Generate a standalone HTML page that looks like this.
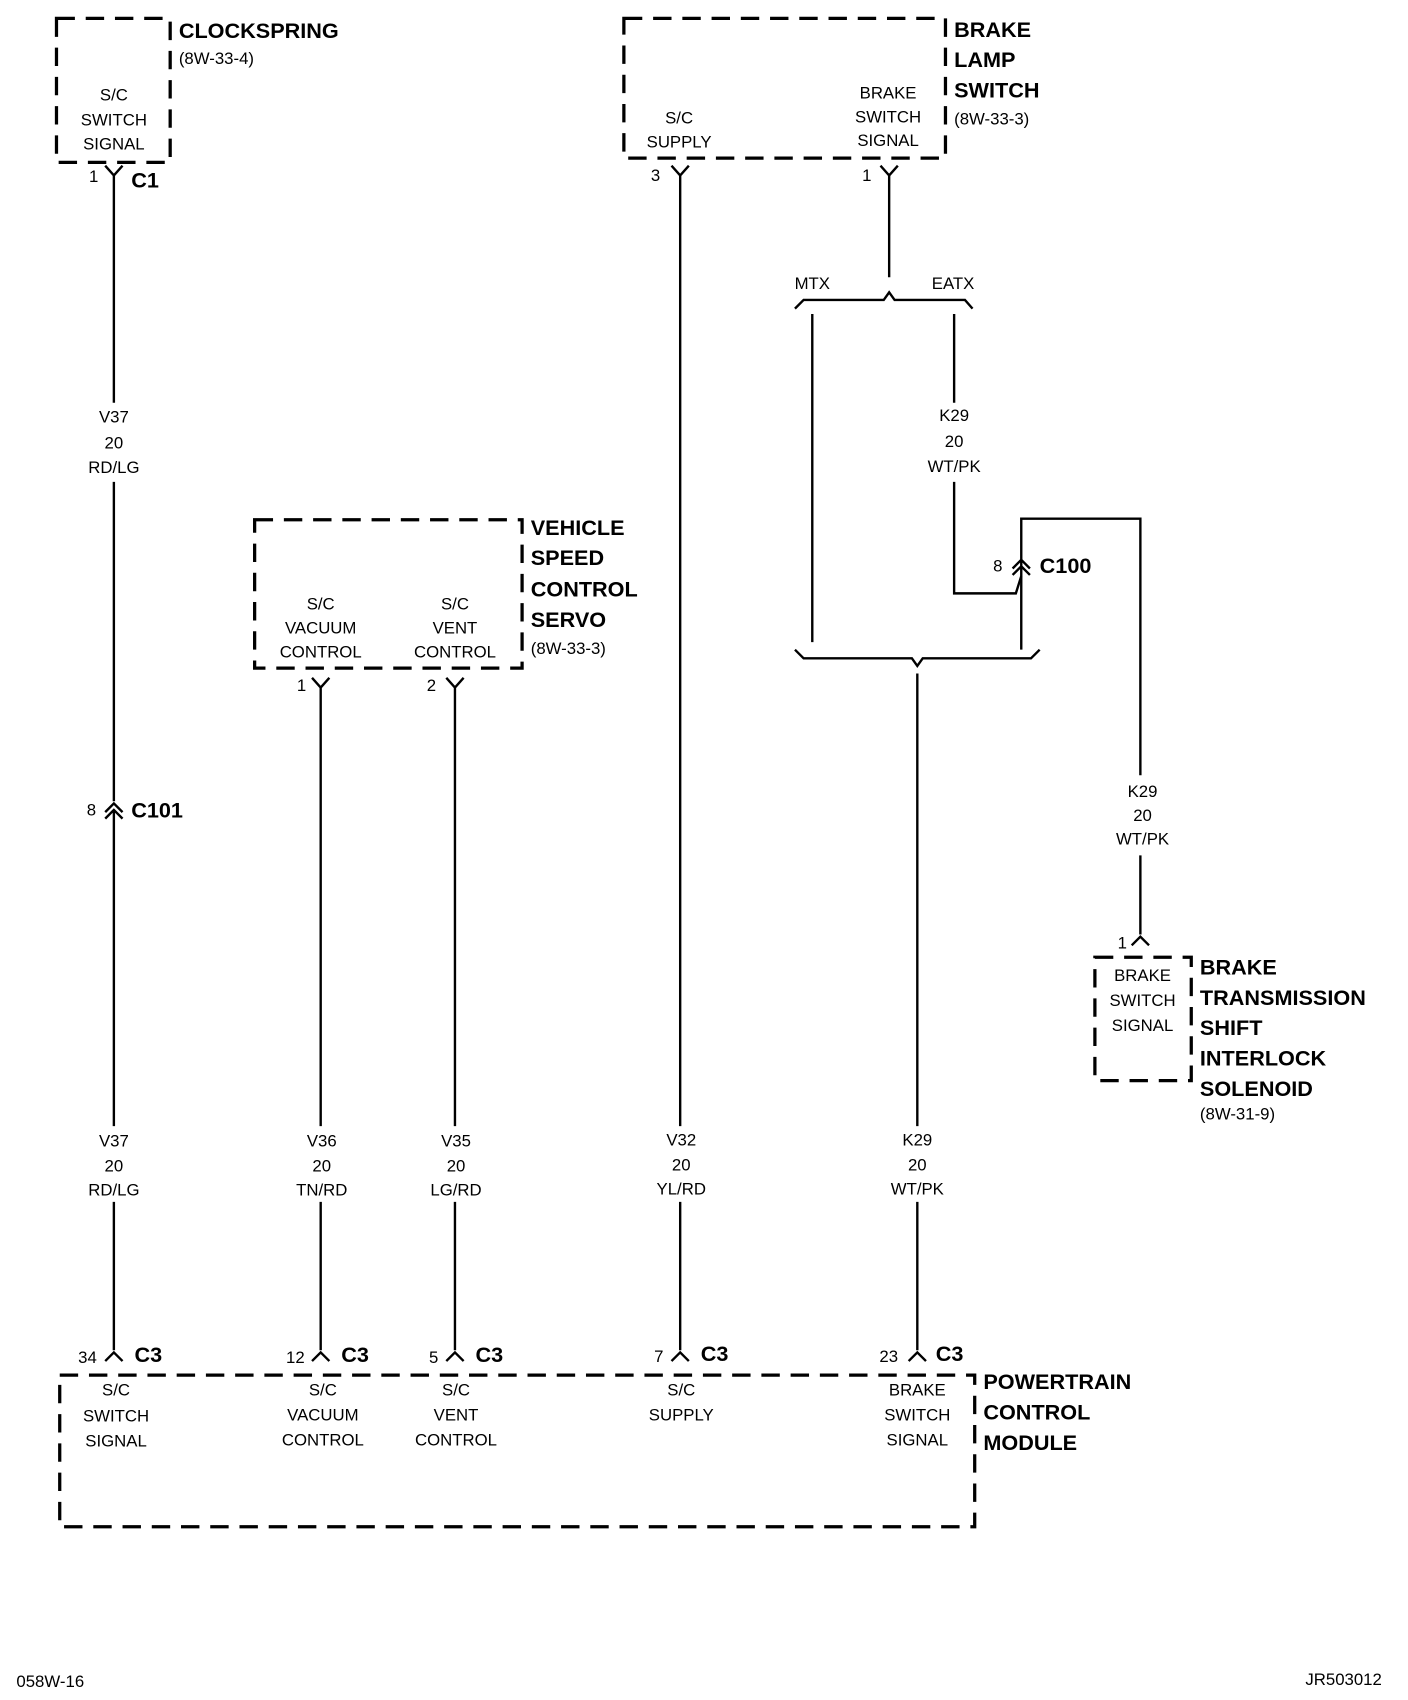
<!DOCTYPE html>
<html><head><meta charset="utf-8"><style>
html,body{margin:0;padding:0;background:#fff;}
svg{display:block;}
text{font-family:"Liberation Sans",sans-serif;fill:#000;}
.s{font-size:15.5px;text-anchor:middle;}
.sl{font-size:15.5px;}
.b{font-size:20px;font-weight:bold;}
.d{fill:none;stroke:#000;stroke-width:3;stroke-dasharray:17 10;}
.w{fill:none;stroke:#000;stroke-width:2.2;}
</style></head><body>
<svg width="1408" height="1700" viewBox="0 0 1300 1570" xmlns="http://www.w3.org/2000/svg">
<!-- CLOCKSPRING -->
<rect class="d" x="52" y="17" width="105" height="133"/>
<text class="b" x="165" y="35">CLOCKSPRING</text>
<text class="sl" x="165" y="59">(8W-33-4)</text>
<text class="s" x="105" y="93">S/C</text><text class="s" x="105" y="116">SWITCH</text><text class="s" x="105" y="138">SIGNAL</text>
<path class="w" d="M97 153 L105 162 L113 153 M105 162 V372 M105 445 V740"/>
<text class="sl" x="82" y="168">1</text><text class="b" x="121" y="173">C1</text>
<text class="s" x="105" y="390">V37</text><text class="s" x="105" y="414">20</text><text class="s" x="105" y="437">RD/LG</text>
<path class="w" d="M97 750 L105 742 L113 750 M97 756 L105 748 L113 756 M105 748 V1040 M105 1110 V1247 M97 1257 L105 1249 L113 1257"/>
<text class="sl" x="80" y="753">8</text><text class="b" x="121" y="755">C101</text>
<text class="s" x="105" y="1059">V37</text><text class="s" x="105" y="1082">20</text><text class="s" x="105" y="1104">RD/LG</text>
<text class="sl" x="72" y="1259">34</text><text class="b" x="124" y="1258">C3</text>

<!-- VSC SERVO -->
<rect class="d" x="235" y="480" width="247" height="137"/>
<text class="b" x="490" y="494">VEHICLE</text><text class="b" x="490" y="522">SPEED</text><text class="b" x="490" y="551">CONTROL</text><text class="b" x="490" y="579">SERVO</text>
<text class="sl" x="490" y="604">(8W-33-3)</text>
<text class="s" x="296" y="563">S/C</text><text class="s" x="296" y="585">VACUUM</text><text class="s" x="296" y="607">CONTROL</text>
<text class="s" x="420" y="563">S/C</text><text class="s" x="420" y="585">VENT</text><text class="s" x="420" y="607">CONTROL</text>
<path class="w" d="M288 626 L296 635 L304 626 M296 635 V1040 M296 1110 V1247 M288 1257 L296 1249 L304 1257"/>
<path class="w" d="M412 626 L420 635 L428 626 M420 635 V1040 M420 1110 V1247 M412 1257 L420 1249 L428 1257"/>
<text class="sl" x="274" y="638">1</text><text class="sl" x="394" y="638">2</text>
<text class="s" x="297" y="1059">V36</text><text class="s" x="297" y="1082">20</text><text class="s" x="297" y="1104">TN/RD</text>
<text class="s" x="421" y="1059">V35</text><text class="s" x="421" y="1082">20</text><text class="s" x="421" y="1104">LG/RD</text>
<text class="sl" x="264" y="1259">12</text><text class="b" x="315" y="1258">C3</text>
<text class="sl" x="396" y="1259">5</text><text class="b" x="439" y="1258">C3</text>

<!-- BRAKE LAMP SWITCH -->
<rect class="d" x="576" y="17" width="297" height="129"/>
<text class="b" x="881" y="34">BRAKE</text><text class="b" x="881" y="62">LAMP</text><text class="b" x="881" y="90">SWITCH</text>
<text class="sl" x="881" y="115">(8W-33-3)</text>
<text class="s" x="627" y="114">S/C</text><text class="s" x="627" y="136">SUPPLY</text>
<text class="s" x="820" y="91">BRAKE</text><text class="s" x="820" y="113">SWITCH</text><text class="s" x="820" y="135">SIGNAL</text>
<path class="w" d="M620 153 L628 162 L636 153 M628 162 V1040 M628 1110 V1247 M620 1257 L628 1249 L636 1257"/>
<path class="w" d="M813 153 L821 162 L829 153 M821 162 V256"/>
<text class="sl" x="601" y="167">3</text><text class="sl" x="796" y="167">1</text>
<text class="s" x="629" y="1058">V32</text><text class="s" x="629" y="1081">20</text><text class="s" x="629" y="1103">YL/RD</text>
<text class="sl" x="604" y="1258">7</text><text class="b" x="647" y="1257">C3</text>

<!-- brace top -->
<path class="w" d="M734 285 L742 277 H816 L821 270 L826 277 H891 L898 285"/>
<text class="s" x="750" y="267">MTX</text><text class="s" x="880" y="267">EATX</text>
<path class="w" d="M750 290 V593 M881 290 V372 M881 445 V548 H938 L943 532"/>
<text class="s" x="881" y="389">K29</text><text class="s" x="881" y="413">20</text><text class="s" x="881" y="436">WT/PK</text>
<path class="w" d="M935 525 L943 517 L951 525 M935 531 L943 523 L951 531 M943 523 V600 M943 523 V479 H1053 V716 M1053 790 V863 M1045 873 L1053 865 L1061 873"/>
<text class="sl" x="917" y="528">8</text><text class="b" x="960" y="529">C100</text>
<!-- brace bottom -->
<path class="w" d="M734 600 L742 608 H842 L847 615 L852 608 H952 L960 600"/>
<path class="w" d="M847 622 V1040 M847 1110 V1247 M839 1257 L847 1249 L855 1257"/>
<text class="s" x="847" y="1058">K29</text><text class="s" x="847" y="1081">20</text><text class="s" x="847" y="1103">WT/PK</text>
<text class="sl" x="812" y="1258">23</text><text class="b" x="864" y="1257">C3</text>
<text class="s" x="1055" y="736">K29</text><text class="s" x="1055" y="758">20</text><text class="s" x="1055" y="780">WT/PK</text>
<text class="sl" x="1032" y="876">1</text>

<!-- BTSI -->
<rect class="d" x="1011" y="884" width="89" height="114"/>
<text class="s" x="1055" y="906">BRAKE</text><text class="s" x="1055" y="929">SWITCH</text><text class="s" x="1055" y="952">SIGNAL</text>
<text class="b" x="1108" y="900">BRAKE</text><text class="b" x="1108" y="928">TRANSMISSION</text><text class="b" x="1108" y="956">SHIFT</text><text class="b" x="1108" y="984">INTERLOCK</text><text class="b" x="1108" y="1012">SOLENOID</text>
<text class="sl" x="1108" y="1034">(8W-31-9)</text>

<!-- PCM -->
<rect class="d" x="55" y="1270" width="845" height="140"/>
<text class="b" x="908" y="1283">POWERTRAIN</text><text class="b" x="908" y="1311">CONTROL</text><text class="b" x="908" y="1339">MODULE</text>
<text class="s" x="107" y="1289">S/C</text><text class="s" x="107" y="1313">SWITCH</text><text class="s" x="107" y="1336">SIGNAL</text>
<text class="s" x="298" y="1289">S/C</text><text class="s" x="298" y="1312">VACUUM</text><text class="s" x="298" y="1335">CONTROL</text>
<text class="s" x="421" y="1289">S/C</text><text class="s" x="421" y="1312">VENT</text><text class="s" x="421" y="1335">CONTROL</text>
<text class="s" x="629" y="1289">S/C</text><text class="s" x="629" y="1312">SUPPLY</text>
<text class="s" x="847" y="1289">BRAKE</text><text class="s" x="847" y="1312">SWITCH</text><text class="s" x="847" y="1335">SIGNAL</text>

<text class="sl" x="15" y="1558">058W-16</text>
<text class="sl" x="1276" y="1556" text-anchor="end">JR503012</text>
</svg>
</body></html>
